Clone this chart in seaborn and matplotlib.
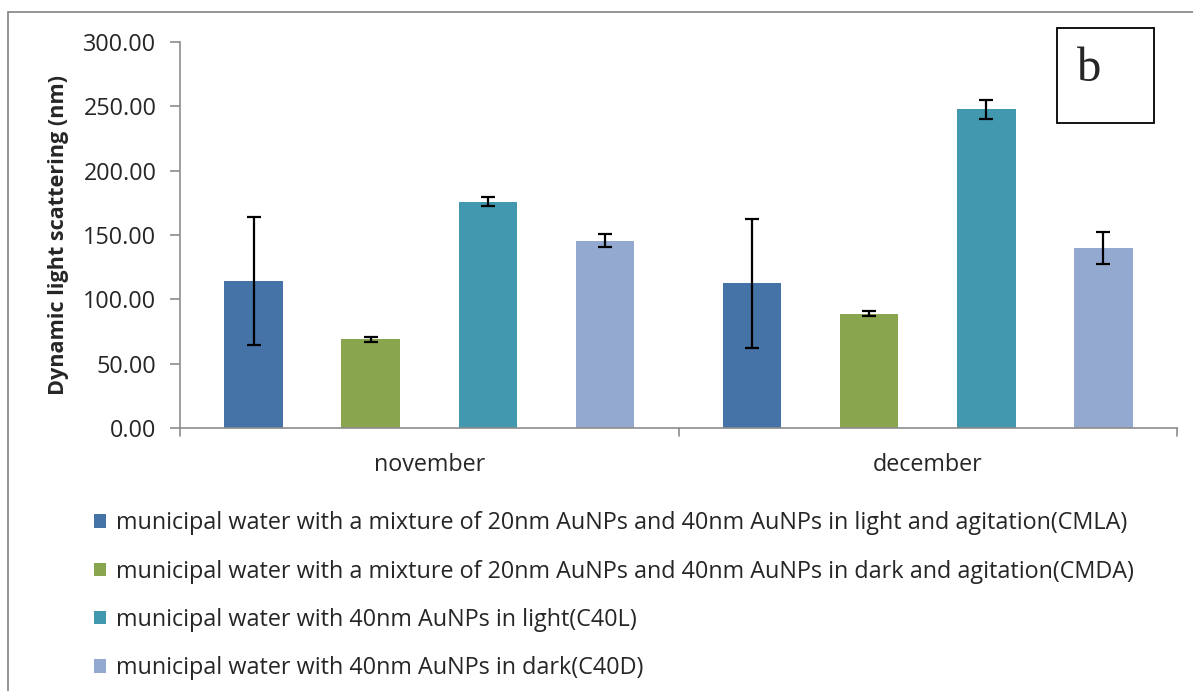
import matplotlib
matplotlib.use("Agg")
import matplotlib.pyplot as plt
from matplotlib.patches import Patch, Rectangle
from matplotlib.lines import Line2D
import seaborn as sns
import pandas as pd

months = ["november", "december"]
series = [
    "municipal water with a mixture of 20nm AuNPs and 40nm AuNPs in light and agitation(CMLA)",
    "municipal water with a mixture of 20nm AuNPs and 40nm AuNPs in dark and agitation(CMDA)",
    "municipal water with 40nm AuNPs in light(C40L)",
    "municipal water with 40nm AuNPs in dark(C40D)",
]
cmla = [114.2, 112.4]
cmda = [68.8, 88.8]
c40l = [175.9, 247.9]
c40d = [145.4, 139.8]
cmla_err = [50.0, 50.0]
cmda_err = [1.8, 1.8]
c40l_err = [3.7, 7.4]
c40d_err = [5.0, 12.2]
yticks = [0, 50, 100, 150, 200, 250, 300]
colors = ["#4572A7", "#89A54E", "#4198AF", "#93A9CF"]

values = [cmla, cmda, c40l, c40d]
errors = [cmla_err, cmda_err, c40l_err, c40d_err]
rows = []
for s, vals in zip(series, values):
    for m, v in zip(months, vals):
        rows.append({"month": m, "series": s, "value": v})
df = pd.DataFrame(rows)

sns.set_theme(style="white")
plt.rcParams["font.family"] = ["Open Sans", "DejaVu Sans"]
FS = 16.8

W, H = 1193, 691
fig = plt.figure(figsize=(W / 100, H / 100), dpi=100)
ax = fig.add_axes([180 / W, 1 - 428 / H, (1177 - 180) / W, (428 - 42) / H])

sns.barplot(data=df, x="month", y="value", hue="series", order=months,
            hue_order=series, palette=colors, width=0.94, gap=0.5,
            errorbar=None, saturation=1, ax=ax, legend=False,
            linewidth=0)

for cont, errs in zip(ax.containers, errors):
    for bar, e in zip(cont, errs):
        xc = bar.get_x() + bar.get_width() / 2
        ax.errorbar(xc, bar.get_height(), yerr=e, fmt="none", ecolor="black",
                    elinewidth=1.6, capsize=5, capthick=1.6, zorder=5)

ax.set_xlim(-0.5, 1.5)
ax.set_ylim(0, 300)
ax.set_yticks(yticks)
ax.set_yticklabels([f"{t:.2f}" for t in yticks], fontsize=FS)
ax.set_xticks([0, 1])
ax.set_xticklabels(months, fontsize=FS)
ax.tick_params(axis="x", length=0, pad=18)
ax.tick_params(axis="y", length=7, width=1.2, color="#8c8c8c", left=True,
               direction="out", pad=10)
for t in [-0.5, 0.5, 1.5]:
    ax.plot([t, t], [0, -0.02], transform=ax.get_xaxis_transform(),
            color="#8c8c8c", lw=1.2, clip_on=False)
ax.set_xlabel("")
ax.set_ylabel("Dynamic light scattering (nm)", fontsize=FS - 1.2, fontweight="bold",
              labelpad=10)
for side in ["top", "right"]:
    ax.spines[side].set_visible(False)
for side in ["left", "bottom"]:
    ax.spines[side].set_color("#8c8c8c")
    ax.spines[side].set_linewidth(1.2)

handles = [Patch(facecolor=c, edgecolor="none") for c in colors]
fig.legend(handles, series, loc="upper left", bbox_to_anchor=(85 / W, 1 - 502 / H),
           frameon=False, fontsize=FS, handlelength=0.5, handleheight=0.5,
           handletextpad=0.45, labelspacing=1.04, borderaxespad=0)

# label box "b"
fig.patches.append(Rectangle((1057 / W, 1 - 123 / H), 97 / W, 95 / H,
                             transform=fig.transFigure, fill=False,
                             edgecolor="black", lw=1.3))
fig.text(1089 / W, 1 - 69 / H, "b", family="Liberation Serif", fontsize=35,
         ha="center", va="center")

# outer frame (top and left)
fig.add_artist(Line2D([8 / W, 1], [1 - 12 / H, 1 - 12 / H], color="#8c8c8c",
                      lw=1.3, transform=fig.transFigure))
fig.add_artist(Line2D([8 / W, 8 / W], [0, 1 - 12 / H], color="#8c8c8c",
                      lw=1.3, transform=fig.transFigure))

fig.savefig("out.png", dpi=100, facecolor="white")
